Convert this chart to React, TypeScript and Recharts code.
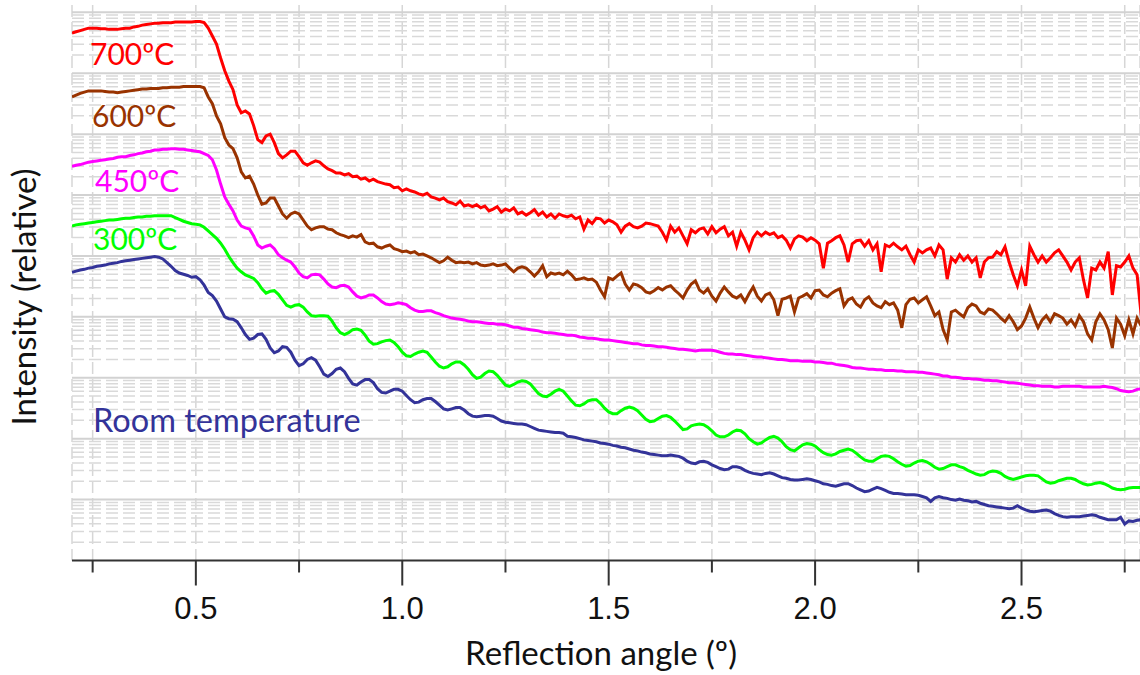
import { LineChart, Line, XAxis, YAxis, CartesianGrid, ReferenceLine } from "recharts";

// angles are sampled every 0.01º starting at 0.20º
const ANGLE_START = 0.2;
const ANGLE_STEP = 0.01;

// log10 of the relative intensity
const roomTemp = [
  4.73, 4.75, 4.77, 4.78, 4.8, 4.81, 4.83, 4.84, 4.85, 4.87,
  4.88, 4.89, 4.91, 4.92, 4.93, 4.94, 4.95, 4.96, 4.97, 4.98,
  4.99, 4.98, 4.95, 4.89, 4.83, 4.76, 4.72, 4.7, 4.68, 4.65,
  4.66, 4.61, 4.52, 4.4, 4.35, 4.26, 4.13, 4.0, 3.97, 3.96,
  3.92, 3.82, 3.71, 3.63, 3.65, 3.71, 3.72, 3.63, 3.49, 3.41,
  3.44, 3.51, 3.5, 3.42, 3.29, 3.2, 3.23, 3.3, 3.33, 3.29,
  3.18, 3.06, 3.02, 3.07, 3.14, 3.16, 3.1, 2.99, 2.9, 2.88,
  2.93, 2.97, 2.97, 2.92, 2.82, 2.76, 2.75, 2.78, 2.81, 2.81,
  2.78, 2.71, 2.64, 2.59, 2.6, 2.64, 2.66, 2.66, 2.61, 2.55,
  2.49, 2.47, 2.49, 2.51, 2.51, 2.47, 2.41, 2.37, 2.36, 2.37,
  2.38, 2.38, 2.37, 2.33, 2.29, 2.27, 2.26, 2.25, 2.24, 2.24,
  2.23, 2.2, 2.17, 2.14, 2.13, 2.12, 2.11, 2.1, 2.1, 2.09,
  2.04, 2.03, 2.02, 2.0, 1.98, 1.97, 1.96, 1.95, 1.93, 1.92,
  1.91, 1.89, 1.88, 1.86, 1.85, 1.83, 1.81, 1.8, 1.78, 1.77,
  1.75, 1.74, 1.73, 1.72, 1.72, 1.73, 1.72, 1.71, 1.68, 1.63,
  1.6, 1.59, 1.62, 1.63, 1.61, 1.57, 1.54, 1.51, 1.49, 1.5,
  1.54, 1.54, 1.52, 1.48, 1.45, 1.43, 1.42, 1.41, 1.43, 1.44,
  1.42, 1.39, 1.36, 1.35, 1.33, 1.32, 1.32, 1.33, 1.34, 1.33,
  1.31, 1.29, 1.26, 1.25, 1.23, 1.22, 1.24, 1.26, 1.26, 1.23,
  1.19, 1.16, 1.13, 1.14, 1.17, 1.2, 1.18, 1.15, 1.12, 1.1,
  1.1, 1.09, 1.08, 1.08, 1.08, 1.07, 1.05, 1.03, 0.97, 1.03,
  1.05, 1.03, 1.02, 1.0, 0.99, 1.01, 0.99, 0.98, 0.96, 0.97,
  0.94, 0.92, 0.9, 0.89, 0.88, 0.87, 0.86, 0.85, 0.86, 0.9,
  0.86, 0.83, 0.81, 0.8, 0.81, 0.82, 0.83, 0.81, 0.77, 0.74,
  0.72, 0.71, 0.72, 0.72, 0.72, 0.73, 0.74, 0.75, 0.74, 0.71,
  0.69, 0.67, 0.67, 0.67, 0.71, 0.6, 0.65, 0.64, 0.66, 0.67,
];

const temp300 = [
  5.49, 5.51, 5.52, 5.53, 5.54, 5.55, 5.56, 5.57, 5.58, 5.59,
  5.59, 5.6, 5.61, 5.62, 5.62, 5.63, 5.64, 5.64, 5.65, 5.65,
  5.66, 5.66, 5.66, 5.66, 5.66, 5.63, 5.6, 5.57, 5.55, 5.53,
  5.52, 5.51, 5.47, 5.41, 5.35, 5.29, 5.21, 5.11, 4.99, 4.89,
  4.8, 4.74, 4.69, 4.66, 4.63, 4.56, 4.46, 4.39, 4.42, 4.43,
  4.37, 4.28, 4.19, 4.16, 4.19, 4.2, 4.16, 4.08, 4.02, 4.01,
  4.02, 4.02, 4.01, 3.93, 3.82, 3.74, 3.71, 3.74, 3.79, 3.8,
  3.78, 3.7, 3.6, 3.55, 3.56, 3.59, 3.61, 3.62, 3.58, 3.51,
  3.42, 3.36, 3.35, 3.39, 3.42, 3.44, 3.42, 3.34, 3.26, 3.19,
  3.16, 3.18, 3.23, 3.26, 3.26, 3.21, 3.14, 3.05, 2.99, 3.01,
  3.07, 3.11, 3.1, 3.04, 2.96, 2.88, 2.86, 2.89, 2.93, 2.95,
  2.94, 2.9, 2.82, 2.74, 2.7, 2.69, 2.73, 2.78, 2.81, 2.78,
  2.7, 2.62, 2.55, 2.54, 2.57, 2.62, 2.64, 2.64, 2.58, 2.5,
  2.44, 2.41, 2.41, 2.46, 2.5, 2.52, 2.5, 2.46, 2.39, 2.32,
  2.28, 2.29, 2.33, 2.37, 2.38, 2.35, 2.29, 2.22, 2.15, 2.16,
  2.21, 2.23, 2.24, 2.23, 2.19, 2.13, 2.06, 2.03, 2.03, 2.06,
  2.11, 2.14, 2.13, 2.08, 2.0, 1.95, 1.91, 1.93, 1.98, 2.02,
  2.04, 2.01, 1.95, 1.87, 1.82, 1.8, 1.85, 1.9, 1.92, 1.91,
  1.88, 1.82, 1.77, 1.74, 1.73, 1.75, 1.79, 1.81, 1.83, 1.81,
  1.76, 1.7, 1.65, 1.63, 1.63, 1.67, 1.71, 1.72, 1.71, 1.67,
  1.62, 1.58, 1.55, 1.56, 1.6, 1.63, 1.64, 1.62, 1.58, 1.53,
  1.5, 1.51, 1.54, 1.57, 1.57, 1.54, 1.52, 1.48, 1.45, 1.42,
  1.4, 1.41, 1.45, 1.47, 1.46, 1.43, 1.38, 1.35, 1.33, 1.35,
  1.37, 1.39, 1.4, 1.4, 1.39, 1.34, 1.29, 1.27, 1.28, 1.31,
  1.33, 1.35, 1.35, 1.33, 1.29, 1.26, 1.24, 1.25, 1.27, 1.28,
  1.26, 1.23, 1.19, 1.17, 1.16, 1.17, 1.19, 1.2, 1.2, 1.2,
];

const temp450 = [
  6.47, 6.49, 6.5, 6.52, 6.54, 6.55, 6.56, 6.57, 6.58, 6.59,
  6.6, 6.62, 6.63, 6.63, 6.65, 6.66, 6.68, 6.69, 6.71, 6.72,
  6.74, 6.74, 6.75, 6.75, 6.76, 6.76, 6.75, 6.75, 6.74, 6.73,
  6.72, 6.71, 6.68, 6.65, 6.58, 6.41, 6.18, 5.97, 5.85, 5.74,
  5.59, 5.49, 5.46, 5.44, 5.33, 5.18, 5.13, 5.16, 5.18, 5.12,
  5.02, 4.97, 4.93, 4.9, 4.82, 4.72, 4.66, 4.64, 4.69, 4.7,
  4.69, 4.62, 4.54, 4.49, 4.48, 4.51, 4.52, 4.49, 4.41, 4.34,
  4.31, 4.33, 4.36, 4.36, 4.31, 4.25, 4.21, 4.2, 4.21, 4.23,
  4.22, 4.2, 4.15, 4.11, 4.09, 4.09, 4.1, 4.1, 4.07, 4.05,
  4.02, 4.0, 3.98, 3.97, 3.96, 3.95, 3.93, 3.92, 3.92, 3.91,
  3.9, 3.89, 3.89, 3.88, 3.88, 3.87, 3.85, 3.83, 3.83, 3.81,
  3.8, 3.79, 3.78, 3.77, 3.75, 3.74, 3.74, 3.73, 3.72, 3.71,
  3.7, 3.7, 3.69, 3.67, 3.66, 3.65, 3.65, 3.64, 3.63, 3.62,
  3.62, 3.61, 3.6, 3.59, 3.58, 3.57, 3.56, 3.56, 3.54, 3.53,
  3.53, 3.52, 3.51, 3.51, 3.5, 3.49, 3.48, 3.47, 3.47, 3.46,
  3.45, 3.44, 3.45, 3.45, 3.45, 3.45, 3.44, 3.42, 3.4, 3.39,
  3.39, 3.38, 3.38, 3.37, 3.36, 3.35, 3.34, 3.34, 3.33, 3.32,
  3.31, 3.3, 3.3, 3.29, 3.28, 3.28, 3.28, 3.27, 3.27, 3.27,
  3.26, 3.26, 3.25, 3.24, 3.24, 3.22, 3.21, 3.2, 3.19, 3.17,
  3.16, 3.16, 3.15, 3.14, 3.14, 3.13, 3.13, 3.12, 3.12, 3.12,
  3.11, 3.11, 3.1, 3.1, 3.1, 3.09, 3.09, 3.08, 3.07, 3.06,
  3.05, 3.03, 3.03, 3.01, 3.01, 3.0, 2.99, 2.99, 2.98, 2.98,
  2.97, 2.96, 2.96, 2.95, 2.95, 2.94, 2.93, 2.92, 2.92, 2.91,
  2.9, 2.89, 2.88, 2.87, 2.87, 2.86, 2.86, 2.86, 2.85, 2.85,
  2.86, 2.86, 2.86, 2.86, 2.86, 2.85, 2.85, 2.85, 2.85, 2.85,
  2.86, 2.85, 2.84, 2.82, 2.79, 2.78, 2.77, 2.78, 2.81, 2.82,
];

const temp600 = [
  7.61, 7.64, 7.67, 7.69, 7.71, 7.71, 7.71, 7.71, 7.7, 7.69,
  7.69, 7.68, 7.69, 7.7, 7.71, 7.72, 7.73, 7.74, 7.74, 7.75,
  7.75, 7.75, 7.76, 7.76, 7.77, 7.77, 7.77, 7.78, 7.78, 7.78,
  7.78, 7.78, 7.76, 7.61, 7.5, 7.3, 7.17, 6.94, 6.82, 6.76,
  6.61, 6.38, 6.28, 6.31, 6.18, 6.0, 5.85, 5.87, 5.95, 5.95,
  5.82, 5.69, 5.62, 5.69, 5.72, 5.69, 5.59, 5.49, 5.43, 5.46,
  5.48, 5.48, 5.44, 5.43, 5.38, 5.35, 5.33, 5.3, 5.33, 5.31,
  5.35, 5.23, 5.2, 5.21, 5.15, 5.13, 5.16, 5.18, 5.12, 5.1,
  5.07, 5.08, 5.05, 5.07, 5.02, 5.03, 5.0, 4.97, 4.93, 4.89,
  4.92, 4.98, 4.93, 4.89, 4.9, 4.89, 4.9, 4.87, 4.89, 4.85,
  4.84, 4.85, 4.87, 4.84, 4.85, 4.87, 4.8, 4.74, 4.8, 4.82,
  4.8, 4.74, 4.67, 4.74, 4.84, 4.66, 4.72, 4.7, 4.72, 4.69,
  4.75, 4.69, 4.61, 4.62, 4.64, 4.61, 4.62, 4.57, 4.44, 4.33,
  4.64, 4.61, 4.67, 4.72, 4.54, 4.44, 4.54, 4.52, 4.48, 4.41,
  4.39, 4.43, 4.48, 4.44, 4.49, 4.51, 4.44, 4.38, 4.31, 4.44,
  4.54, 4.59, 4.44, 4.39, 4.46, 4.34, 4.26, 4.39, 4.49, 4.41,
  4.34, 4.31, 4.36, 4.25, 4.38, 4.49, 4.34, 4.26, 4.36, 4.39,
  4.28, 4.02, 4.29, 4.31, 4.34, 4.08, 4.31, 4.34, 4.38, 4.31,
  4.43, 4.44, 4.36, 4.33, 4.39, 4.43, 4.46, 4.18, 4.28, 4.31,
  4.21, 4.16, 4.28, 4.33, 4.23, 4.18, 4.15, 4.25, 4.2, 4.23,
  4.11, 3.82, 4.2, 4.29, 4.31, 4.23, 4.28, 4.33, 4.18, 4.02,
  4.08, 3.79, 3.62, 4.08, 4.11, 4.05, 4.0, 4.15, 4.21, 4.18,
  4.08, 4.05, 4.13, 4.11, 4.05, 3.98, 3.92, 4.02, 3.92, 3.79,
  3.85, 3.98, 4.16, 3.98, 3.82, 3.95, 4.02, 3.92, 4.05, 4.02,
  3.98, 3.88, 3.95, 3.85, 4.02, 3.92, 3.72, 3.62, 3.92, 4.05,
  3.95, 3.79, 3.49, 3.98, 3.88, 3.69, 3.95, 3.72, 3.98, 3.85,
];

const temp700 = [
  8.66, 8.68, 8.7, 8.72, 8.74, 8.74, 8.74, 8.73, 8.73, 8.72,
  8.72, 8.72, 8.73, 8.74, 8.74, 8.76, 8.77, 8.79, 8.8, 8.81,
  8.82, 8.82, 8.83, 8.83, 8.83, 8.84, 8.84, 8.84, 8.84, 8.84,
  8.85, 8.85, 8.83, 8.74, 8.61, 8.48, 8.25, 8.04, 7.87, 7.73,
  7.48, 7.35, 7.38, 7.33, 7.14, 6.91, 6.86, 6.97, 7.0, 6.86,
  6.68, 6.61, 6.66, 6.72, 6.72, 6.63, 6.53, 6.49, 6.53, 6.56,
  6.54, 6.48, 6.43, 6.4, 6.36, 6.36, 6.33, 6.35, 6.3, 6.31,
  6.26, 6.28, 6.23, 6.26, 6.22, 6.2, 6.18, 6.17, 6.12, 6.13,
  6.07, 6.1, 6.07, 6.05, 6.02, 6.0, 6.03, 5.97, 5.95, 5.92,
  5.95, 5.89, 5.87, 5.84, 5.9, 5.82, 5.84, 5.81, 5.84, 5.79,
  5.82, 5.74, 5.77, 5.81, 5.72, 5.77, 5.74, 5.79, 5.69, 5.72,
  5.67, 5.71, 5.76, 5.67, 5.72, 5.64, 5.69, 5.62, 5.69, 5.66,
  5.64, 5.67, 5.61, 5.64, 5.44, 5.59, 5.53, 5.62, 5.61, 5.54,
  5.59, 5.56, 5.51, 5.39, 5.49, 5.53, 5.48, 5.46, 5.49, 5.54,
  5.53, 5.51, 5.49, 5.39, 5.26, 5.49, 5.39, 5.46, 5.33, 5.2,
  5.43, 5.38, 5.44, 5.46, 5.36, 5.48, 5.38, 5.44, 5.48, 5.33,
  5.39, 5.16, 5.39, 5.26, 5.1, 5.3, 5.39, 5.33, 5.39, 5.35,
  5.38, 5.3, 5.33, 5.26, 5.13, 5.28, 5.33, 5.31, 5.25, 5.3,
  5.26, 5.2, 4.8, 5.21, 5.25, 5.3, 5.33, 5.18, 4.9, 5.2,
  5.25, 5.26, 5.16, 5.25, 5.1, 5.2, 4.74, 5.18, 5.15, 5.21,
  5.15, 5.1, 5.16, 5.02, 4.9, 5.1, 5.05, 5.1, 5.13, 5.0,
  5.18, 5.1, 4.62, 4.97, 4.9, 5.02, 4.93, 5.0, 4.9, 4.97,
  4.64, 4.9, 4.97, 4.98, 5.07, 5.02, 5.15, 4.9, 4.69, 4.51,
  4.77, 4.51, 5.16, 5.02, 4.9, 5.0, 4.9, 4.97, 5.05, 5.1,
  5.0, 4.9, 4.77, 4.9, 4.97, 4.61, 4.31, 4.8, 4.77, 4.9,
  4.8, 5.07, 4.36, 4.84, 4.82, 4.9, 5.0, 4.8, 4.69, 4.02,
];

const seriesList = [
  { key: "room", name: "Room temperature", values: roomTemp, color: "#333399" },
  { key: "t300", name: "300ºC", values: temp300, color: "#00ff00" },
  { key: "t450", name: "450ºC", values: temp450, color: "#ff00ff" },
  { key: "t600", name: "600ºC", values: temp600, color: "#993300" },
  { key: "t700", name: "700ºC", values: temp700, color: "#ff0000" },
];

const xTicks = [0.25, 0.5, 0.75, 1, 1.25, 1.5, 1.75, 2, 2.25, 2.5, 2.75];
const xLabelled = [0.5, 1, 1.5, 2, 2.5];

const decades = [1, 2, 3, 4, 5, 6, 7, 8, 9];
const Y_TOP = Math.pow(10, 9.12);

// 2..9 x 10^k lines of the log grid
const minorTicks: number[] = [];
for (let k = 0; k <= 9; k++) {
  for (let m = 2; m <= 9; m++) {
    const v = m * Math.pow(10, k);
    if (v <= Y_TOP) minorTicks.push(v);
  }
}

const data = roomTemp.map((_, i) => {
  const row: any = { angle: +(ANGLE_START + i * ANGLE_STEP).toFixed(2) };
  seriesList.forEach((s) => {
    row[s.key] = Math.pow(10, s.values[i]);
  });
  return row;
});

const labelFont = "Lato, 'DejaVu Sans', sans-serif";

function AngleTick(props: any) {
  const { x, y, payload } = props;
  const major = xLabelled.some((v) => Math.abs(v - payload.value) < 1e-6);
  return (
    <g>
      <line x1={x} x2={x} y1={y} y2={y + (major ? 25 : 12)} stroke="#333" strokeWidth={2} />
      {major && (
        <text
          x={x}
          y={y + 58}
          textAnchor="middle"
          fontFamily="'Liberation Sans', Arial, sans-serif"
          fontSize={31}
          fill="#111"
        >
          {payload.value.toFixed(1)}
        </text>
      )}
    </g>
  );
}

export default function App() {
  return (
    <div style={{ position: "absolute", left: 0, top: 0, width: 1140, height: 675, background: "#fff" }}>
      <LineChart
        width={1140}
        height={675}
        data={data}
        margin={{ top: 5, right: 0, bottom: 0, left: 72 }}
      >
        <CartesianGrid
          horizontal={false}
          stroke="#d6d6d6"
          strokeWidth={1.5}
          strokeDasharray="12 5"
        />
        <XAxis
          dataKey="angle"
          type="number"
          domain={[0.2, 2.787]}
          ticks={xTicks}
          allowDataOverflow
          height={114.5}
          tickSize={0}
          tickMargin={0}
          tickLine={false}
          tick={<AngleTick />}
          axisLine={{ stroke: "#333", strokeWidth: 2 }}
          interval={0}
        />
        <XAxis
          xAxisId="top"
          orientation="top"
          dataKey="angle"
          type="number"
          domain={[0.2, 2.787]}
          height={0}
          tick={false}
          tickLine={false}
          axisLine={{ stroke: "#000", strokeWidth: 2.5 }}
        />
        <YAxis
          type="number"
          scale="log"
          domain={[1, Y_TOP]}
          allowDataOverflow
          width={0}
          tick={false}
          tickLine={false}
          axisLine={{ stroke: "#222", strokeWidth: 2 }}
        />
        {minorTicks.map((v) => (
          <ReferenceLine
            key={"m" + v}
            y={v}
            stroke="#d9d9d9"
            strokeWidth={1.5}
            strokeDasharray="12 5"
          />
        ))}
        {decades.map((k) => (
          <ReferenceLine key={"d" + k} y={Math.pow(10, k)} stroke="#d2d2d2" strokeWidth={2} />
        ))}
        {seriesList.map((s) => (
          <Line
            key={s.key}
            dataKey={s.key}
            name={s.name}
            type="linear"
            stroke={s.color}
            strokeWidth={3}
            dot={false}
            activeDot={false}
            isAnimationActive={false}
          />
        ))}
      </LineChart>
      <svg
        width={1140}
        height={675}
        style={{ position: "absolute", left: 0, top: 0, pointerEvents: "none" }}
        fontFamily={labelFont}
      >
        <text x={90} y={65} fontSize={30} fill="#ff0000">700ºC</text>
        <text x={92} y={127} fontSize={30} fill="#993300">600ºC</text>
        <text x={95} y={192} fontSize={30} fill="#ff00ff">450ºC</text>
        <text x={93} y={250} fontSize={30} fill="#00ff00">300ºC</text>
        <text x={93} y={432} fontSize={32.5} fill="#333399">Room temperature</text>
        <text x={601} y={665} fontSize={33} fill="#111" textAnchor="middle">
          Reflection angle (º)
        </text>
        <text
          transform="translate(36,297) rotate(-90)"
          fontSize={33}
          fill="#111"
          textAnchor="middle"
        >
          Intensity (relative)
        </text>
      </svg>
    </div>
  );
}
